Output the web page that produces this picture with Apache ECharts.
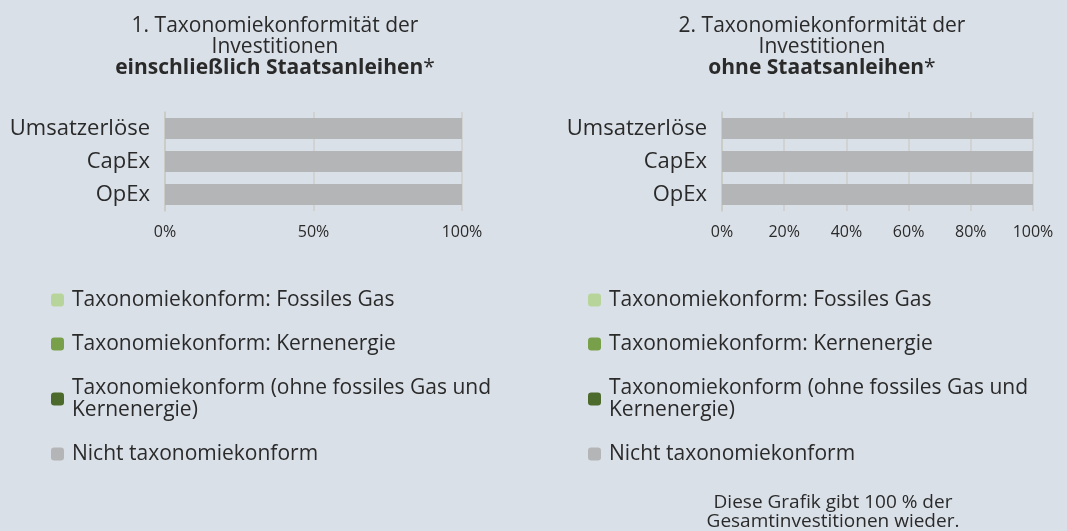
<!DOCTYPE html>
<html>
<head>
<meta charset="utf-8">
<script src="https://cdn.jsdelivr.net/npm/echarts@6/dist/echarts.min.js"></script>
<style>
  html, body { margin: 0; padding: 0; background: #dae0e8; }
  #chart { width: 1067px; height: 531px; }
</style>
</head>
<body>
<div id="chart"></div>
<script>
  // Kategorien und Werte (Anteil 0..1)
  var categories = ['Umsatzerlöse', 'CapEx', 'OpEx'];
  var seriesNames = [
    'Taxonomiekonform: Fossiles Gas',
    'Taxonomiekonform: Kernenergie',
    'Taxonomiekonform (ohne fossiles Gas und Kernenergie)',
    'Nicht taxonomiekonform'
  ];
  var colors = ['#b7d59b', '#78a04a', '#4b6a2b', '#b3b5b6'];

  // 1. einschliesslich Staatsanleihen
  var incl = [
    [0, 0, 0],
    [0, 0, 0],
    [0, 0, 0],
    [1, 1, 1]
  ];
  // 2. ohne Staatsanleihen
  var excl = [
    [0, 0, 0],
    [0, 0, 0],
    [0, 0, 0],
    [1, 1, 1]
  ];
  var ticksLeft = [0, 0.5, 1];
  var ticksRight = [0, 0.2, 0.4, 0.6, 0.8, 1];

  var font = '"Open Sans", sans-serif';
  var textColor = '#2a2a2a';

  function xAxis(gridIndex, ticks) {
    return {
      type: 'value',
      gridIndex: gridIndex,
      min: ticks[0],
      max: ticks[ticks.length - 1],
      interval: ticks[1] - ticks[0],
      axisLine: {show: false},
      axisTick: {show: false},
      axisLabel: {
        margin: 13,
        color: textColor,
        fontFamily: font,
        fontSize: 16,
        formatter: function (v) { return Math.round(v * 100) + '%'; }
      },
      splitLine: {lineStyle: {color: '#cdcfcb', width: 1.5}}
    }
  }

  function yAxis(gridIndex) {
    return {
      type: 'category',
      gridIndex: gridIndex,
      inverse: true,
      data: categories,
      axisLine: {lineStyle: {color: '#c9cac5', width: 1.5}},
      axisTick: {length: 4, lineStyle: {color: '#c9cac5', width: 1.5}},
      axisLabel: {margin: 15, color: textColor, fontFamily: font, fontSize: 22}
    }
  }

  function makeSeries(gridIndex, values) {
    return seriesNames.map(function (name, i) {
      return {
        name: name,
        type: 'bar',
        stack: 'total' + gridIndex,
        xAxisIndex: gridIndex,
        yAxisIndex: gridIndex,
        barCategoryGap: '36%',
        itemStyle: {color: colors[i]},
        data: values[i]
      }
    });
  }

  function legend(left) {
    return {
      orient: 'vertical',
      left: left,
      top: 284,
      itemWidth: 13,
      itemHeight: 13,
      itemGap: 22,
      icon: 'roundRect',
      data: seriesNames,
      formatter: function (name) {
        return name.replace('Gas und ', 'Gas und\n');
      },
      textStyle: {color: textColor, fontFamily: font, fontSize: 21, lineHeight: 22, padding: [0, 0, 0, 3]}
    }
  }

  function title(x, num, bold) {
    return {
      left: x,
      top: 11,
      textAlign: 'center',
      text: '{n|' + num + '. Taxonomiekonformität der}\n{n|Investitionen}\n{b|' + bold + '}{n|*}',
      textStyle: {
        rich: {
          n: {color: textColor, fontFamily: font, fontSize: 21, lineHeight: 21, fontWeight: 'normal'},
          b: {color: textColor, fontFamily: font, fontSize: 21, lineHeight: 21, fontWeight: 'bold'}
        }
      }
    }
  }

  var chart = echarts.init(document.getElementById('chart'));
  chart.setOption({
    backgroundColor: '#dae0e8',
    animation: false,
    title: [
      title(270, 1, 'einschließlich Staatsanleihen'),
      title(817, 2, 'ohne Staatsanleihen'),
      {
        left: 828,
        top: 488,
        textAlign: 'center',
        text: 'Diese Grafik gibt 100 % der\nGesamtinvestitionen wieder.',
        textStyle: {color: textColor, fontFamily: font, fontSize: 19, lineHeight: 19, fontWeight: 'normal'}
      }
    ],
    legend: [legend(46), legend(583)],
    grid: [
      {left: 165, width: 297, top: 112, height: 99},
      {left: 722, width: 311, top: 112, height: 99}
    ],
    xAxis: [xAxis(0, ticksLeft), xAxis(1, ticksRight)],
    yAxis: [yAxis(0), yAxis(1)],
    series: makeSeries(0, incl).concat(makeSeries(1, excl))
  });
</script>
</body>
</html>
